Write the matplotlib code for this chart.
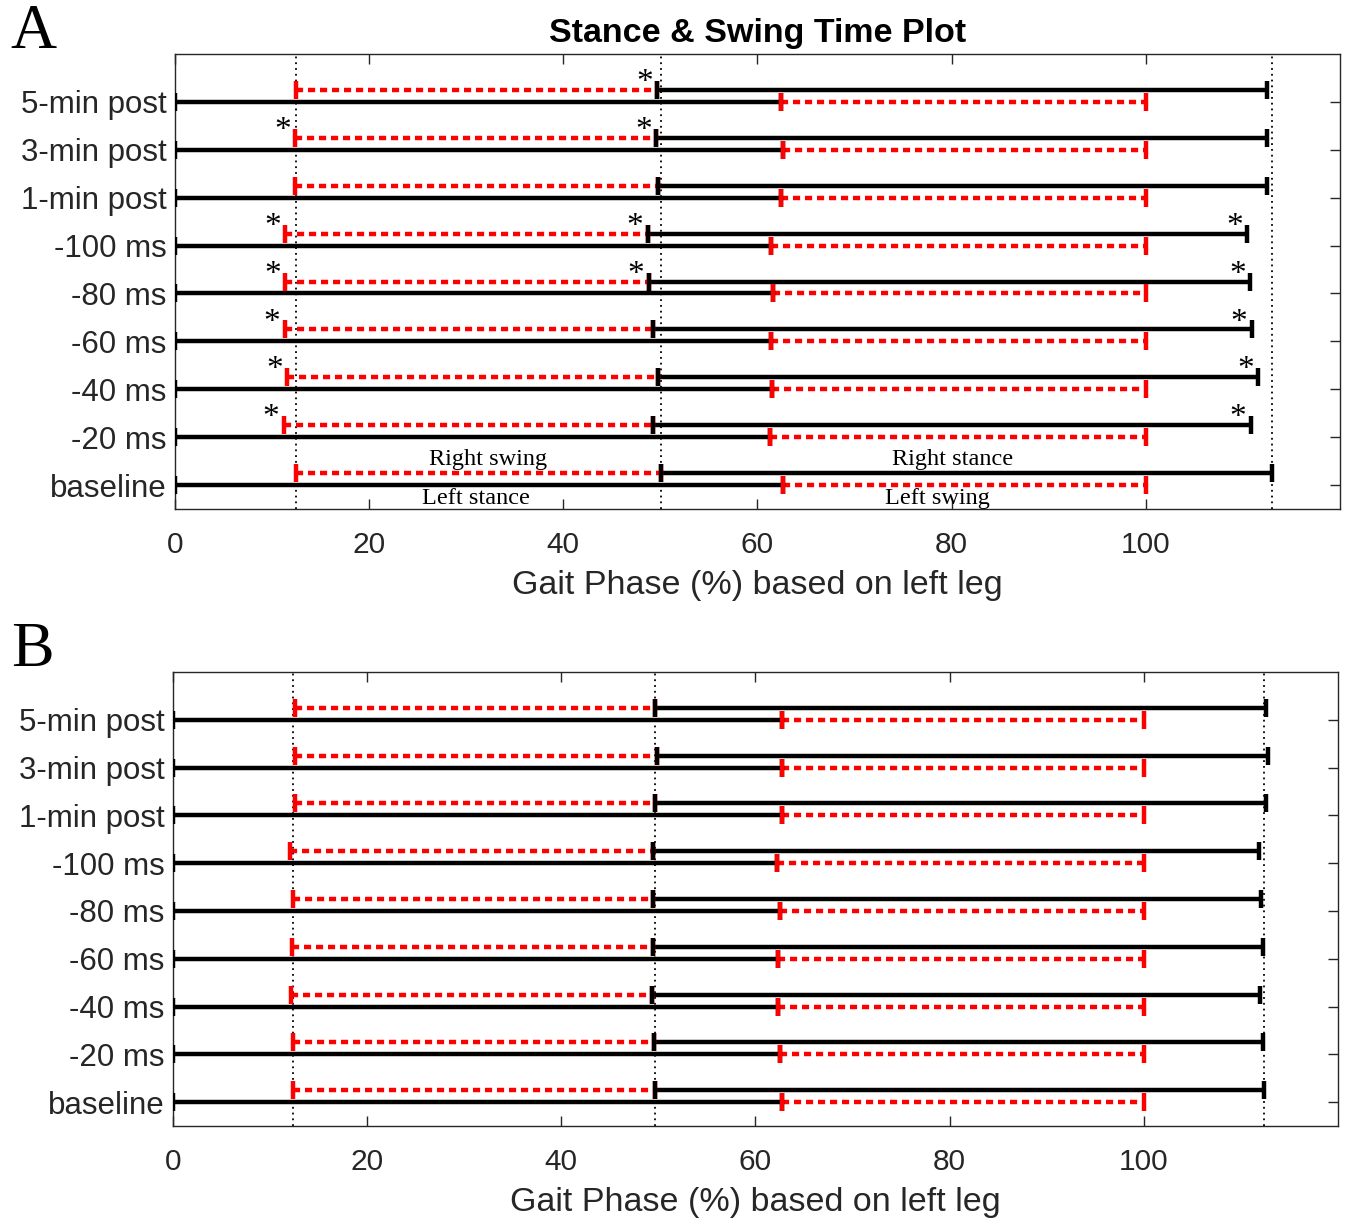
import matplotlib
matplotlib.use("Agg")
import matplotlib.pyplot as plt
import numpy as np

plt.rcParams['font.family'] = ['Liberation Sans', 'DejaVu Sans']

categories = ["baseline", "-20 ms", "-40 ms", "-60 ms", "-80 ms", "-100 ms",
              "1-min post", "3-min post", "5-min post"]

# Panel A (bottom -> top)
a_right_swing_start = [12.5, 11.2, 11.55, 11.3, 11.35, 11.35, 12.4, 12.4, 12.45]
a_right_stance_start = [50.1, 49.2, 49.75, 49.2, 48.8, 48.7, 49.75, 49.6, 49.65]
a_right_stance_end = [113.0, 110.8, 111.6, 110.9, 110.75, 110.45, 112.45, 112.45, 112.45]
a_left_swing_start = [62.6, 61.25, 61.5, 61.35, 61.6, 61.45, 62.45, 62.6, 62.45]
a_left_swing_end = [100, 100, 100, 100, 100, 100, 100, 100, 100]
# significance stars (1 = star) for each event
a_star_rsw_start = [0, 1, 1, 1, 1, 1, 0, 1, 0]
a_star_rst_start = [0, 0, 0, 0, 1, 1, 0, 1, 1]
a_star_rst_end = [0, 1, 1, 1, 1, 1, 0, 0, 0]

# Panel B (bottom -> top)
b_right_swing_start = [12.4, 12.4, 12.2, 12.3, 12.35, 12.1, 12.6, 12.6, 12.6]
b_right_stance_start = [49.7, 49.6, 49.3, 49.4, 49.45, 49.4, 49.7, 49.85, 49.65]
b_right_stance_end = [112.4, 112.3, 112.0, 112.3, 112.05, 111.9, 112.55, 112.75, 112.55]
b_left_swing_start = [62.7, 62.5, 62.35, 62.35, 62.5, 62.2, 62.7, 62.7, 62.7]
b_left_swing_end = [100, 100, 100, 100, 100, 100, 100, 100, 100]

xticks = [0, 20, 40, 60, 80, 100]
xlabel = "Gait Phase (%) based on left leg"
title = "Stance & Swing Time Plot"

fig = plt.figure(figsize=(13.47, 12.2), dpi=100)
axA = fig.add_axes([0.1298, 0.5828, 0.8650, 0.3729])
axB = fig.add_axes([0.1284, 0.0770, 0.8649, 0.3722])

RED = '#ff0000'
LW = 3.2
OFF = 0.25


def seg(ax, x0, x1, y, color, dotted):
    if dotted:
        ax.plot([x0, x1], [y, y], color=color, lw=LW, linestyle=(0, (1.6, 1.1)),
                solid_capstyle='butt', dash_capstyle='butt', zorder=3)
    else:
        ax.plot([x0, x1], [y, y], color=color, lw=LW, solid_capstyle='butt', zorder=3)
    ax.plot([x0, x1], [y, y], linestyle='none', marker='|', markersize=13,
            markeredgewidth=3.2, color=color, zorder=4)


def panel(ax, rsw, rst, rste, lsw, lswe, stars=None, labels=False):
    ys = np.arange(1, len(categories) + 1)
    for i, y in enumerate(ys):
        # left leg
        seg(ax, 0, lsw[i], y, 'black', False)
        seg(ax, lsw[i], lswe[i], y, RED, True)
        # right leg
        seg(ax, rsw[i], rst[i], y + OFF, RED, True)
        seg(ax, rst[i], rste[i], y + OFF, 'black', False)
    for xv in (rsw[0], rst[0], rste[0]):
        ax.axvline(xv, color='black', lw=1.3, linestyle=(0, (1, 2.2)), zorder=2)
    if stars is not None:
        s1, s2, s3 = stars
        for i, y in enumerate(ys):
            for flag, xv in ((s1[i], rsw[i]), (s2[i], rst[i]), (s3[i], rste[i])):
                if flag:
                    ax.text(xv - 1.3, y + OFF - 0.17, "*", family='Liberation Serif',
                            fontsize=24, ha='center', va='bottom', zorder=5)
    if labels:
        kw = dict(family='Liberation Serif', fontsize=17.5, ha='center')
        ax.text((rsw[0] + rst[0]) / 2 + 1, 1 + OFF + 0.06, "Right swing", va='bottom', **kw)
        ax.text((rsw[0] + rst[0]) / 2 - 0.3, 1 - 0.06, "Left stance", va='top', **kw)
        ax.text((rst[0] + rste[0]) / 2 - 1.5, 1 + OFF + 0.06, "Right stance", va='bottom', **kw)
        ax.text((lsw[0] + lswe[0]) / 2 - 2.8, 1 - 0.06, "Left swing", va='top', **kw)
    ax.set_xlim(0, 120)
    ax.set_ylim(0.5, 10)
    ax.set_xticks(xticks)
    ax.set_xticklabels([str(t) for t in xticks], fontsize=21.5)
    ax.set_yticks(ys)
    ax.set_yticklabels(categories, fontsize=22.5)
    ax.tick_params(direction='in', length=7, width=1, top=True, right=True,
                   colors='#262626', labelcolor='#262626')
    ax.tick_params(axis='x', pad=16)
    ax.tick_params(axis='y', pad=6)
    for sp in ax.spines.values():
        sp.set_color('#262626')
        sp.set_linewidth(1)
    ax.set_xlabel(xlabel, fontsize=24.5, color='#262626', labelpad=8)


panel(axA, a_right_swing_start, a_right_stance_start, a_right_stance_end,
      a_left_swing_start, a_left_swing_end,
      stars=(a_star_rsw_start, a_star_rst_start, a_star_rst_end), labels=True)
panel(axB, b_right_swing_start, b_right_stance_start, b_right_stance_end,
      b_left_swing_start, b_left_swing_end)

axA.set_title(title, fontsize=24.5, fontweight='bold', pad=9)
fig.text(0.008, 0.949, "A", family='Liberation Serif', fontsize=46, ha='left', va='bottom')
fig.text(0.008, 0.443, "B", family='Liberation Serif', fontsize=46, ha='left', va='bottom')

fig.savefig("out.png", dpi=100)
